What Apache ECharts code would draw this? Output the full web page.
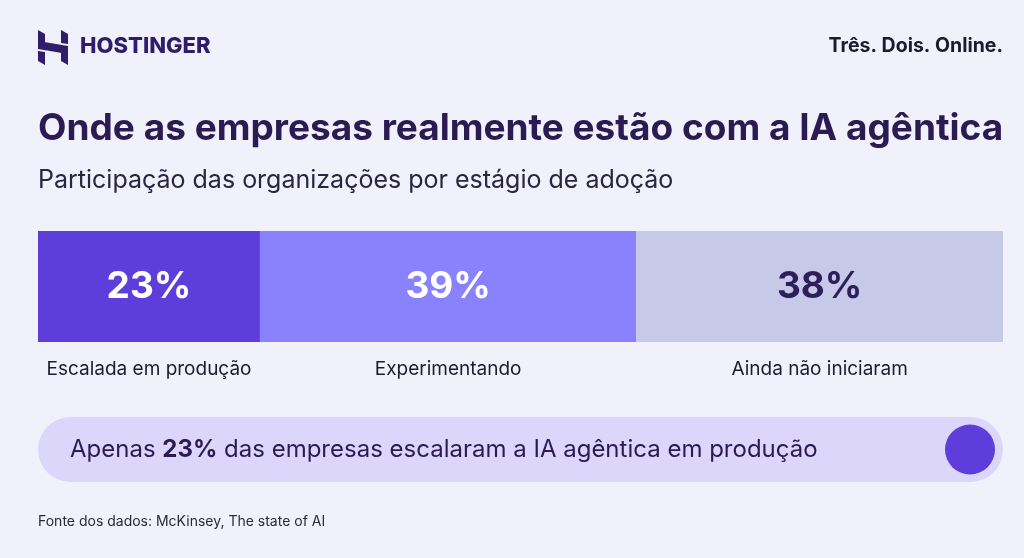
<!DOCTYPE html>
<html>
<head>
<meta charset="utf-8">
<script src="https://cdn.jsdelivr.net/npm/echarts@6/dist/echarts.min.js"></script>
<style>
  html, body { margin: 0; padding: 0; background: #F0F1FB; }
  #chart { width: 1024px; height: 558px; }
</style>
</head>
<body>
<div id="chart"></div>
<script>
/* 数据:各采用阶段占比 */
const stages = ['Escalada em produção', 'Experimentando', 'Ainda não iniciaram']
const shares = [23, 39, 38]
const highlightIdx = 0

const FONT = 'Inter, "Noto Sans", sans-serif'
const INK = '#2A1B52'
const SEG_COLORS = ['#5E3EDB', '#8A82FC', '#C6CAE8']
const SEG_TEXT = ['#FFFFFF', '#FFFFFF', '#2E1F5C']

// 累计起止,供自定义系列画段
let acc = 0
const segs = shares.map((v, i) => {
  const s = acc; acc += v
  return [s, acc, v, i]
})

const chart = echarts.init(document.getElementById('chart'), null, { renderer: 'canvas' })

/* Hostinger 标志:四块平行四边形拼成 H */
const L = 38, T = 30
const logoPolys = [
  [[0, 0], [7, 4], [7, 15], [30, 19], [30, 24], [0, 19]],
  [[23, 0], [30, 4], [30, 14], [23, 13]],
  [[30, 35], [23, 31], [23, 20], [0, 16], [0, 11], [30, 16]],
  [[7, 35], [0, 31], [0, 21], [7, 22]],
].map(pts => ({
  type: 'polygon',
  shape: { points: pts.map(([x, y]) => [L + x, T + y]) },
  style: { fill: '#2F1C6A' },
}))

chart.setOption({
  backgroundColor: '#F0F1FB',
  animation: false,
  title: [
    { text: 'Onde as empresas realmente estão com a IA agêntica', left: 33, top: 105,
      textStyle: { fontFamily: FONT, fontSize: 37, fontWeight: 700, color: INK } },
    { text: 'Participação das organizações por estágio de adoção', left: 33, top: 163,
      textStyle: { fontFamily: FONT, fontSize: 25, fontWeight: 400, color: '#2B2540' } },
  ],
  grid: { left: 38, right: 21, top: 231, height: 111 },
  xAxis: { type: 'value', min: 0, max: 100, show: false },
  yAxis: { type: 'category', data: ['estágio'], show: false },
  series: [{
    type: 'custom',
    data: segs,
    renderItem: (params, api) => {
      const i = api.value(3)
      const p0 = api.coord([api.value(0), 0])
      const p1 = api.coord([api.value(1), 0])
      const h = api.size([0, 1])[1]
      const cx = (p0[0] + p1[0]) / 2
      return {
        type: 'group',
        children: [
          { type: 'rect', shape: { x: p0[0], y: p0[1] - h / 2, width: p1[0] - p0[0], height: h },
            style: { fill: SEG_COLORS[i] } },
          { type: 'text', x: cx, y: p0[1],
            style: { text: api.value(2) + '%', fill: SEG_TEXT[i], align: 'center', verticalAlign: 'middle',
              font: `700 37px ${FONT}` } },
          { type: 'text', x: cx, y: p0[1] + h / 2 + 27,
            style: { text: stages[i], fill: '#1F1B2E', align: 'center', verticalAlign: 'middle',
              font: `400 19px ${FONT}` } },
        ],
      }
    },
  }],
  graphic: [
    ...logoPolys,
    { type: 'text', left: 80, top: 35,
      style: { text: 'HOSTINGER', fill: '#2F1C6A', font: `800 22px ${FONT}` } },
    { type: 'text', right: 21, top: 36,
      style: { text: 'Três. Dois. Online.', fill: '#1E1A2E', font: `700 19.5px ${FONT}` } },
    { type: 'rect', shape: { x: 38, y: 417, width: 965, height: 65, r: 32.5 },
      style: { fill: '#DCD6FB' } },
    { type: 'circle', shape: { cx: 970, cy: 449.5, r: 25 },
      style: { fill: SEG_COLORS[highlightIdx] } },
    { type: 'text', x: 70, y: 450,
      style: {
        text: `Apenas {b|${shares[highlightIdx]}%} das empresas escalaram a IA agêntica em produção`,
        fill: INK, verticalAlign: 'middle', font: `400 24px ${FONT}`,
        rich: { b: { fontFamily: FONT, fontSize: 24, fontWeight: 700, fill: INK } },
      } },
    { type: 'text', x: 38, y: 522,
      style: { text: 'Fonte dos dados: McKinsey, The state of AI', fill: '#2B2838',
        verticalAlign: 'middle', font: `400 14px ${FONT}` } },
  ],
})
</script>
</body>
</html>
